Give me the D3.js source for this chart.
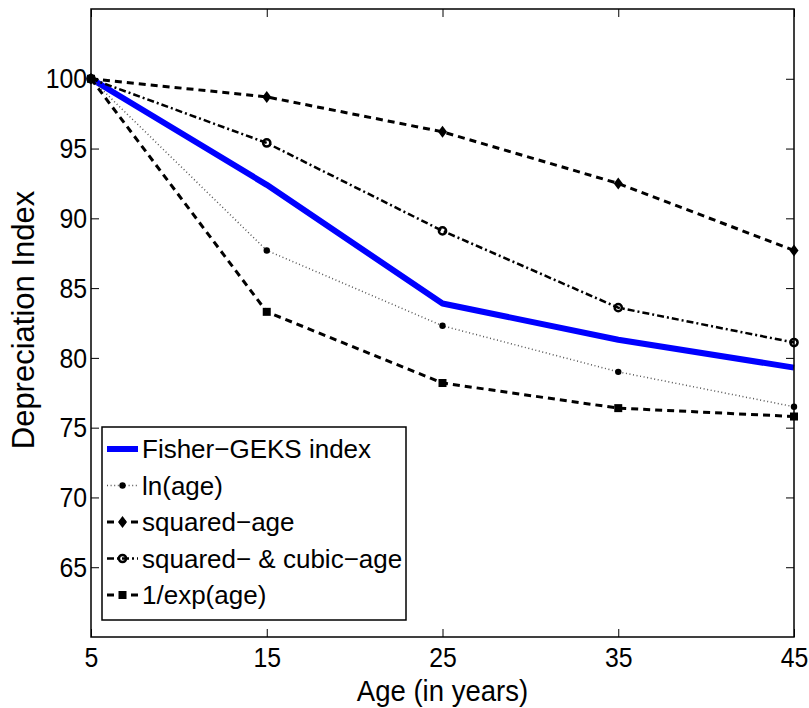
<!DOCTYPE html>
<html>
<head>
<meta charset="utf-8">
<script src="https://d3js.org/d3.v7.min.js"></script>
<style>
  body { margin: 0; background: #fff; }
  text { font-family: "Liberation Sans", Arial, sans-serif; fill: #000; }
</style>
</head>
<body>
<div id="chart"></div>
<script>
// values
var ages = [5, 15, 25, 35, 45];
var fisher = [100, 92.4, 83.9, 81.3, 79.3];
var lnAge = [100, 87.7, 82.3, 79.0, 76.5];
var squaredAge = [100, 98.7, 96.2, 92.5, 87.7];
var cubicAge = [100, 95.4, 89.1, 83.6, 81.1];
var expAge = [100, 83.3, 78.2, 76.4, 75.8];

var xTicks = [5, 15, 25, 35, 45];
var yTicks = [65, 70, 75, 80, 85, 90, 95, 100];
var seriesNames = ["Fisher\u2212GEKS index", "ln(age)", "squared\u2212age",
                   "squared\u2212 & cubic\u2212age", "1/exp(age)"];

var width = 809, height = 708;
// plot box (window.top is reserved, so use other names)
var plotLeft = 91, plotRight = 794, plotTop = 9, plotBottom = 637;
var fontsize = 26;

var svg = d3.select("#chart").append("svg")
  .attr("width", width)
  .attr("height", height);

var x = d3.scaleLinear().domain([5, 45]).range([plotLeft, plotRight]);
var y = d3.scaleLinear().domain([60, 105]).range([plotBottom, plotTop]);

var styles = [
  {values: fisher, color: "#0000ff", w: 6, dash: null, marker: null},
  {values: lnAge, color: "#555", w: 1.5, dash: "1,2.6", marker: "dot"},
  {values: squaredAge, color: "#000", w: 3, dash: "7,5", marker: "diamond"},
  {values: cubicAge, color: "#000", w: 2.5, dash: "7,3,2,3", marker: "circle"},
  {values: expAge, color: "#000", w: 3, dash: "7,5", marker: "square"}
];

function drawmarker(g, kind, cx, cy) {
  if (kind == "dot") {
    g.append("circle").attr("cx", cx).attr("cy", cy).attr("r", 3.2).attr("fill", "#000");
  } else if (kind == "diamond") {
    g.append("path")
      .attr("d", "M" + cx + "," + (cy - 6) + "L" + (cx + 4.5) + "," + cy + "L" + cx + "," + (cy + 6) + "L" + (cx - 4.5) + "," + cy + "Z")
      .attr("fill", "#000");
  } else if (kind == "circle") {
    g.append("circle").attr("cx", cx).attr("cy", cy).attr("r", 3.6)
      .attr("fill", "none").attr("stroke", "#000").attr("stroke-width", 2.5);
  } else if (kind == "square") {
    g.append("rect").attr("x", cx - 4).attr("y", cy - 4).attr("width", 8).attr("height", 8).attr("fill", "#000");
  }
};

// series
var line = d3.line()
  .x(function(d, i) { return x(ages[i]) })
  .y(function(d) { return y(d) });

styles.forEach(function(s) {
  var g = svg.append("g");
  g.append("path")
    .attr("d", line(s.values))
    .attr("fill", "none")
    .attr("stroke", s.color)
    .attr("stroke-width", s.w)
    .attr("stroke-dasharray", s.dash)
    .attr("stroke-linejoin", "round");
  s.values.forEach(function(v, i) {
    drawmarker(g, s.marker, x(ages[i]), y(v));
  });
});

// axes box with inward ticks on all four sides
var axes = svg.append("g");
axes.append("g").attr("transform", "translate(0," + plotBottom + ")")
  .call(d3.axisBottom(x).tickValues(xTicks).tickSizeInner(-8).tickSizeOuter(0).tickPadding(10));
axes.append("g").attr("transform", "translate(0," + plotTop + ")")
  .call(d3.axisTop(x).tickValues(xTicks).tickSizeInner(-8).tickSizeOuter(0).tickFormat(""));
axes.append("g").attr("transform", "translate(" + plotLeft + ",0)")
  .call(d3.axisLeft(y).tickValues(yTicks).tickSizeInner(-8).tickSizeOuter(0).tickPadding(4));
axes.append("g").attr("transform", "translate(" + plotRight + ",0)")
  .call(d3.axisRight(y).tickValues(yTicks).tickSizeInner(-8).tickSizeOuter(0).tickFormat(""));
axes.selectAll(".domain").remove();
axes.selectAll(".tick line").attr("stroke", "#000").attr("stroke-width", 1);
// tick labels are taller and narrower in the original
axes.selectAll(".tick text")
  .attr("font-size", 28.5)
  .attr("font-family", "Liberation Sans, Arial, sans-serif")
  .each(function() {
    var t = d3.select(this);
    var tx = +t.attr("x") || 0;
    t.attr("x", tx / 0.87).attr("transform", "scale(0.87,1)");
  });

svg.append("rect")
  .attr("x", plotLeft).attr("y", plotTop)
  .attr("width", plotRight - plotLeft).attr("height", plotBottom - plotTop)
  .attr("fill", "none").attr("stroke", "#000").attr("stroke-width", 1.5);

// axis titles
svg.append("text")
  .attr("transform", "translate(" + (plotLeft + plotRight) / 2 + ",701) scale(0.95,1)")
  .attr("text-anchor", "middle")
  .attr("font-size", 29)
  .text("Age (in years)");
svg.append("text")
  .attr("transform", "translate(34,320) rotate(-90)")
  .attr("text-anchor", "middle")
  .attr("font-size", 31)
  .text("Depreciation Index");

// legend
var lg = svg.append("g");
lg.append("rect")
  .attr("x", 102).attr("y", 427).attr("width", 304).attr("height", 193)
  .attr("fill", "#fff").attr("stroke", "#000").attr("stroke-width", 1.5);
styles.forEach(function(s, i) {
  var ry = 449 + i * 36.5;
  lg.append("line")
    .attr("x1", 107).attr("x2", 138).attr("y1", ry).attr("y2", ry)
    .attr("stroke", s.color)
    .attr("stroke-width", s.w)
    .attr("stroke-dasharray", s.dash);
  drawmarker(lg, s.marker, 122.5, ry);
  lg.append("text")
    .attr("x", 142).attr("y", ry)
    .attr("dy", "0.35em")
    .attr("font-size", fontsize)
    .text(seriesNames[i]);
});
</script>
</body>
</html>
